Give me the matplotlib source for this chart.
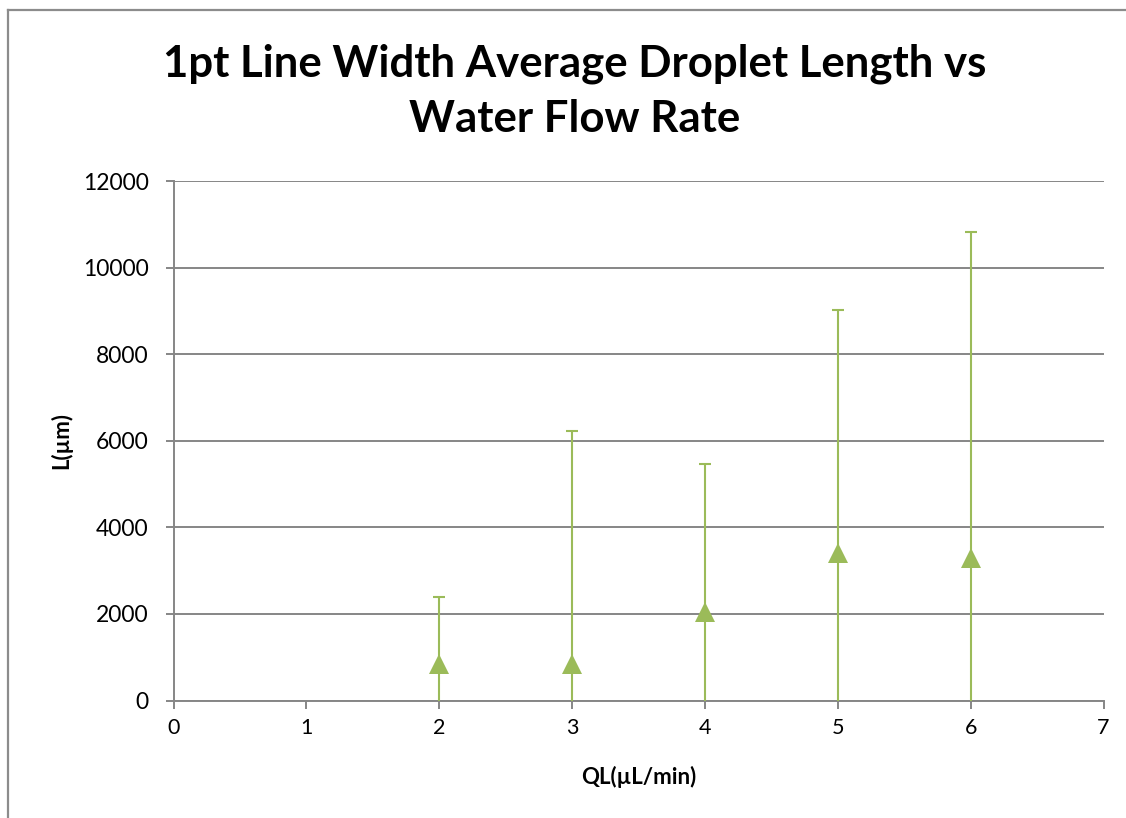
import matplotlib
matplotlib.use("Agg")
import matplotlib.pyplot as plt
from matplotlib.lines import Line2D

# Data
flow_rate = [2, 3, 4, 5, 6]                    # QL (uL/min)
avg_length = [850, 850, 2040, 3400, 3290]      # L (um)
length_err = [1535, 5365, 3412, 5625, 7525]    # error bar (symmetric)

x_ticks = [0, 1, 2, 3, 4, 5, 6, 7]
y_ticks = [0, 2000, 4000, 6000, 8000, 10000, 12000]

title_line1 = "1pt Line Width Average Droplet Length vs"
title_line2 = "Water Flow Rate"
x_label = "QL(\u00b5L/min)"
y_label = "L(\u00b5m)"

W, H = 1126, 818
DPI = 100
GREEN = "#9BBB59"
GRID = "#868686"
FONT = ["Lato", "DejaVu Sans"]

plt.rcParams["font.family"] = FONT

fig = plt.figure(figsize=(W / DPI, H / DPI), dpi=DPI)
fig.patch.set_facecolor("white")

# chart border: top and left edges only visible in the reference
fig.lines.append(Line2D([8 / W, 1.0], [(H - 10) / H, (H - 10) / H],
                        transform=fig.transFigure, color="#8c8c8c", linewidth=1.6))
fig.lines.append(Line2D([8 / W, 8 / W], [0.0, (H - 10) / H],
                        transform=fig.transFigure, color="#8c8c8c", linewidth=1.6))

left, right = 173.5 / W, 1103.5 / W
bottom, top = (H - 700.5) / H, (H - 181) / H
ax = fig.add_axes([left, bottom, right - left, top - bottom])

ax.errorbar(flow_rate, avg_length, yerr=length_err, fmt="none",
            ecolor=GREEN, elinewidth=1.5, capsize=4.4, capthick=1.5,
            zorder=3)
ax.plot(flow_rate, avg_length, linestyle="none", marker="^",
        markersize=14, color=GREEN, markeredgewidth=0, zorder=4)

ax.set_xlim(0, 7)
ax.set_ylim(0, 12000)
ax.set_xticks(x_ticks)
ax.set_yticks(y_ticks)
ax.set_xticklabels([str(v) for v in x_ticks])
ax.set_yticklabels([str(v) for v in y_ticks])

ax.grid(axis="y", color=GRID, linewidth=1.4, zorder=0)
ax.set_axisbelow(True)
for s in ["top", "right"]:
    ax.spines[s].set_visible(False)
for s in ["left", "bottom"]:
    ax.spines[s].set_color(GRID)
    ax.spines[s].set_linewidth(1.4)

ax.tick_params(axis="both", direction="out", length=5.8, width=1.4,
               color=GRID, labelcolor="black")
ax.tick_params(axis="y", pad=12, labelsize=16.5)
ax.tick_params(axis="x", pad=7, labelsize=15.5)

ax.set_xlabel(x_label, fontsize=16, fontweight="bold")
ax.set_ylabel(y_label, fontsize=16, fontweight="bold")
ax.xaxis.set_label_coords(0.5, -(766 - 700.5) / 519.5)
ax.yaxis.set_label_coords((72 - 173.5) / 930, 0.5)

cx = 575 / W
fig.text(cx, (H - 76) / H, title_line1, ha="center", va="baseline",
         fontsize=31.5, fontweight="bold")
fig.text(cx, (H - 131.7) / H, title_line2, ha="center", va="baseline",
         fontsize=31.5, fontweight="bold")

fig.savefig("out.png", dpi=DPI, facecolor="white")
